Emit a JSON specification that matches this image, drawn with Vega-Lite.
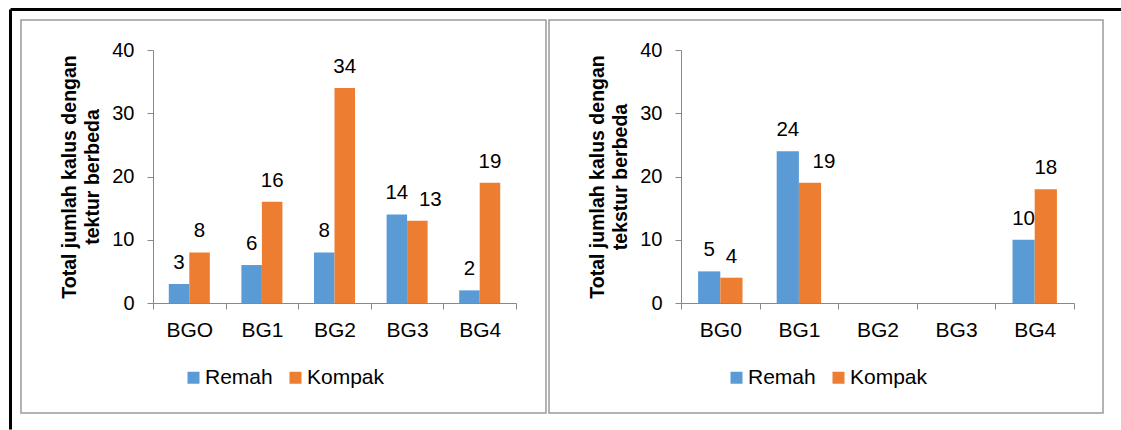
{
  "$schema": "https://vega.github.io/schema/vega-lite/v6.json",
  "padding": {"left": 6, "top": 8, "right": 0, "bottom": 0},
  "background": "white",
  "datasets": {
    "left": [
      {"cat": "BGO", "texture": "Remah", "value": 3},
      {"cat": "BGO", "texture": "Kompak", "value": 8},
      {"cat": "BG1", "texture": "Remah", "value": 6},
      {"cat": "BG1", "texture": "Kompak", "value": 16},
      {"cat": "BG2", "texture": "Remah", "value": 8},
      {"cat": "BG2", "texture": "Kompak", "value": 34},
      {"cat": "BG3", "texture": "Remah", "value": 14},
      {"cat": "BG3", "texture": "Kompak", "value": 13},
      {"cat": "BG4", "texture": "Remah", "value": 2},
      {"cat": "BG4", "texture": "Kompak", "value": 19}
    ],
    "right": [
      {"cat": "BG0", "texture": "Remah", "value": 5},
      {"cat": "BG0", "texture": "Kompak", "value": 4},
      {"cat": "BG1", "texture": "Remah", "value": 24},
      {"cat": "BG1", "texture": "Kompak", "value": 19},
      {"cat": "BG4", "texture": "Remah", "value": 10},
      {"cat": "BG4", "texture": "Kompak", "value": 18}
    ]
  },
  "config": {
    "font": "Liberation Sans",
    "axis": {
      "labelFont": "Liberation Sans", "labelFontSize": 20, "labelColor": "black",
      "domainColor": "#898989", "tickColor": "#898989", "tickSize": 6, "grid": false,
      "titleFont": "Liberation Sans", "titleFontSize": 19.5, "titleFontWeight": "bold", "titleColor": "black"
    },
    "axisX": {"labelFontSize": 21},
    "legend": {
      "labelFont": "Liberation Sans", "labelFontSize": 21, "labelColor": "black"
    }
  },
  "spacing": 3,
  "bounds": "flush",
  "resolve": {"scale": {"color": "independent", "xOffset": "independent"}, "legend": {"color": "independent"}},
  "hconcat": [
    {
      "width": 525, "height": 393,
      "view": {"stroke": "#9a9a9a", "strokeWidth": 1.5},
      "layer": [
        {
          "data": {"name": "left"},
          "encoding": {
            "x": {"field": "cat", "type": "nominal", "sort": null,
              "scale": {"domain": ["BGO", "BG1", "BG2", "BG3", "BG4"], "range": [132, 495], "paddingInner": 0, "paddingOuter": 0},
              "axis": {"offset": -110, "labelAngle": 0, "tickBand": "extent", "title": null, "labelPadding": 10}},
            "xOffset": {"field": "texture", "type": "nominal",
              "scale": {"domain": ["Remah", "Kompak"], "paddingInner": 0, "paddingOuter": 0.77}},
            "y": {"field": "value", "type": "quantitative",
              "scale": {"domain": [0, 40], "range": [283, 30], "nice": false},
              "axis": {"offset": -132, "values": [0, 10, 20, 30, 40], "title": ["Total jumlah kalus dengan", "tektur berbeda"], "titlePadding": 9, "titleLineHeight": 23, "labelPadding": 13}}
          },
          "layer": [
            {"mark": {"type": "bar"},
             "encoding": {"color": {"field": "texture", "type": "nominal",
               "scale": {"domain": ["Remah", "Kompak"], "range": ["#5B9BD5", "#ED7D31"]},
               "legend": {"orient": "none", "legendX": 162, "legendY": 347, "direction": "horizontal", "title": null, "symbolType": "square", "symbolSize": 144, "labelOffset": 1, "columnPadding": 12, "symbolStrokeWidth": 0, "padding": 0}}}},
            {"transform": [{"filter": "!(datum.cat == 'BG3' && datum.texture == 'Kompak')"}],
             "mark": {"type": "text", "baseline": "alphabetic", "dy": -15, "fontSize": 20.5, "font": "Liberation Sans", "color": "black"},
             "encoding": {"text": {"field": "value", "type": "quantitative"}}},
            {"transform": [{"filter": "datum.cat == 'BG3' && datum.texture == 'Kompak'"}],
             "mark": {"type": "text", "baseline": "alphabetic", "dy": -15, "dx": 13, "fontSize": 20.5, "font": "Liberation Sans", "color": "black"},
             "encoding": {"text": {"field": "value", "type": "quantitative"}}}
          ]
        },
        {
          "data": {"values": [{"f": 0}]},
          "mark": {"type": "point", "opacity": 0},
          "encoding": {
            "x": {"datum": 0, "type": "quantitative", "scale": {"domain": [0, 1], "range": [-11, 1120]},
              "axis": {"orient": "top", "offset": 11, "domainColor": "black", "domainWidth": 3, "ticks": false, "labels": false, "title": null}},
            "y": {"datum": 0, "type": "quantitative", "scale": {"domain": [0, 1], "range": [409, -11]},
              "axis": {"orient": "left", "offset": 11, "domainColor": "black", "domainWidth": 3, "ticks": false, "labels": false, "title": null}}
          }
        }
      ],
      "resolve": {"scale": {"x": "independent", "y": "independent"}, "axis": {"x": "independent", "y": "independent"}}
    },
    {
      "width": 554, "height": 393,
      "view": {"stroke": "#9a9a9a", "strokeWidth": 1.5},
      "data": {"name": "right"},
      "encoding": {
        "x": {"field": "cat", "type": "nominal", "sort": null,
          "scale": {"domain": ["BG0", "BG1", "BG2", "BG3", "BG4"], "range": [132, 525], "paddingInner": 0, "paddingOuter": 0},
          "axis": {"offset": -110, "labelAngle": 0, "tickBand": "extent", "title": null, "labelPadding": 10}},
        "xOffset": {"field": "texture", "type": "nominal",
          "scale": {"domain": ["Remah", "Kompak"], "paddingInner": 0, "paddingOuter": 0.77}},
        "y": {"field": "value", "type": "quantitative",
          "scale": {"domain": [0, 40], "range": [283, 30], "nice": false},
          "axis": {"offset": -132, "values": [0, 10, 20, 30, 40], "title": ["Total jumlah kalus dengan", "tekstur berbeda"], "titlePadding": 9, "titleLineHeight": 23, "labelPadding": 13}}
      },
      "layer": [
        {"mark": {"type": "bar"},
         "encoding": {"color": {"field": "texture", "type": "nominal",
           "scale": {"domain": ["Remah", "Kompak"], "range": ["#5B9BD5", "#ED7D31"]},
           "legend": {"orient": "none", "legendX": 177, "legendY": 347, "direction": "horizontal", "title": null, "symbolType": "square", "symbolSize": 144, "labelOffset": 1, "columnPadding": 12, "symbolStrokeWidth": 0, "padding": 0}}}},
        {"transform": [{"filter": "!(datum.cat == 'BG1' && datum.texture == 'Kompak')"}],
         "mark": {"type": "text", "baseline": "alphabetic", "dy": -15, "fontSize": 20.5, "font": "Liberation Sans", "color": "black"},
         "encoding": {"text": {"field": "value", "type": "quantitative"}}},
        {"transform": [{"filter": "datum.cat == 'BG1' && datum.texture == 'Kompak'"}],
         "mark": {"type": "text", "baseline": "alphabetic", "dy": -15, "dx": 14, "fontSize": 20.5, "font": "Liberation Sans", "color": "black"},
         "encoding": {"text": {"field": "value", "type": "quantitative"}}}
      ]
    }
  ]
}
